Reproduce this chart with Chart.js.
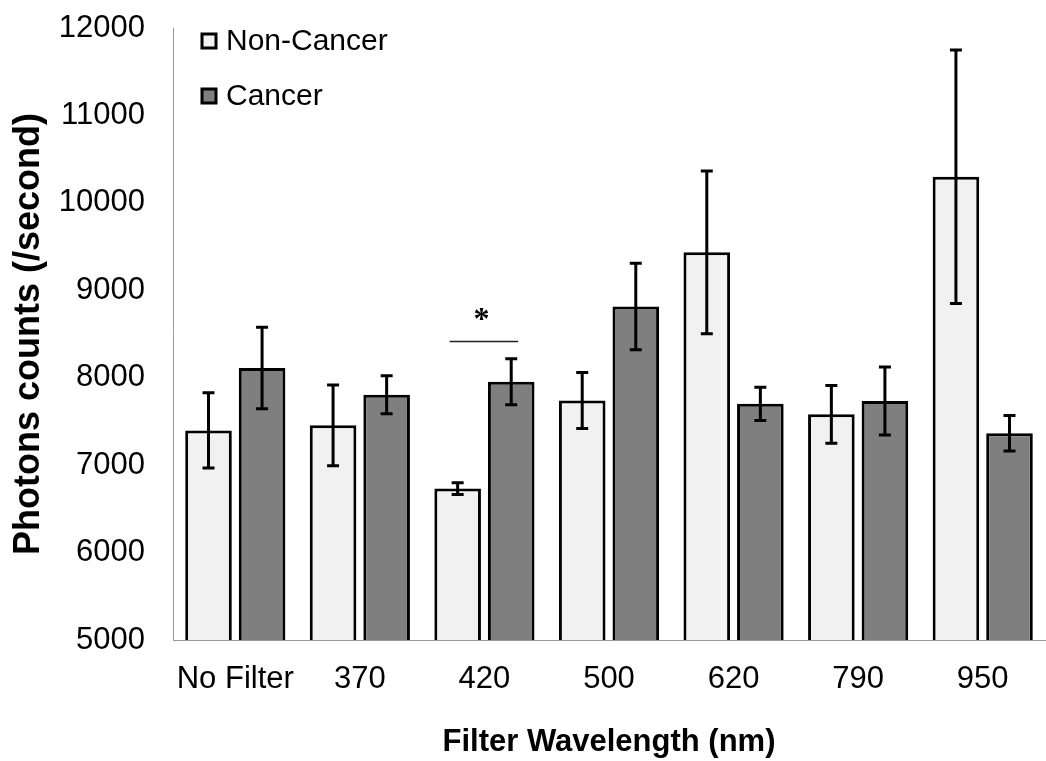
<!DOCTYPE html>
<html>
<head>
<meta charset="utf-8">
<script src="https://cdn.jsdelivr.net/npm/chart.js@4.4.0/dist/chart.umd.min.js"></script>
<style>
  html, body { margin: 0; padding: 0; background: #fff; }
  #wrap { width: 1046px; height: 761px; }
</style>
</head>
<body>
<div id="wrap"><canvas id="c" width="1046" height="761"></canvas></div>
<script>
const categories = ['No Filter', '370', '420', '500', '620', '790', '950'];
const nonCancer = [7397, 7455, 6732, 7740, 9434, 7581, 10299];
const nonCancerErr = [430, 461, 67, 320, 930, 331, 1450];
const cancer = [8110, 7806, 7955, 8814, 7702, 7733, 7365];
const cancerErr = [466, 217, 263, 495, 190, 389, 203];
const yTicks = [5000, 6000, 7000, 8000, 9000, 10000, 11000, 12000];
const sigCategoryIndex = 2;
const sigLevel = 8415;
const sigMark = '*';

const FONT = 'Liberation Sans, Arial, sans-serif';

const errorBarPlugin = {
  id: 'errorBars',
  afterDatasetsDraw(chart) {
    const ctx = chart.ctx;
    const y = chart.scales.y;
    chart.data.datasets.forEach((ds, i) => {
      const meta = chart.getDatasetMeta(i);
      meta.data.forEach((bar, j) => {
        const v = ds.data[j], e = ds.errors[j];
        const top = y.getPixelForValue(v + e);
        const bot = y.getPixelForValue(v - e);
        ctx.save();
        ctx.strokeStyle = '#000';
        ctx.lineWidth = 3;
        ctx.beginPath();
        ctx.moveTo(bar.x, top); ctx.lineTo(bar.x, bot);
        ctx.moveTo(bar.x - 6, top); ctx.lineTo(bar.x + 6, top);
        ctx.moveTo(bar.x - 6, bot); ctx.lineTo(bar.x + 6, bot);
        ctx.stroke();
        ctx.restore();
      });
    });
    const a = chart.getDatasetMeta(0).data[sigCategoryIndex];
    const b = chart.getDatasetMeta(1).data[sigCategoryIndex];
    const sy = y.getPixelForValue(sigLevel);
    ctx.save();
    ctx.strokeStyle = '#222';
    ctx.lineWidth = 1.5;
    ctx.beginPath();
    ctx.moveTo(a.x - 8, sy); ctx.lineTo(b.x + 7, sy);
    ctx.stroke();
    ctx.fillStyle = '#000';
    ctx.font = 'bold 32px "Liberation Serif", "Times New Roman", serif';
    ctx.textAlign = 'center';
    ctx.textBaseline = 'middle';
    ctx.fillText(sigMark, (a.x + b.x) / 2 - 3, sy - 21);
    ctx.restore();
  }
};

const legendPlugin = {
  id: 'insideLegend',
  afterDraw(chart) {
    const ctx = chart.ctx;
    const area = chart.chartArea;
    chart.data.datasets.forEach((ds, i) => {
      const bx = area.left + 29;
      const by = area.top + 6 + i * 55;
      ctx.save();
      ctx.fillStyle = ds.backgroundColor;
      ctx.fillRect(bx, by, 14, 14);
      ctx.strokeStyle = '#000';
      ctx.lineWidth = 3;
      ctx.strokeRect(bx, by, 14, 14);
      ctx.fillStyle = '#000';
      ctx.font = '30px ' + FONT;
      ctx.textAlign = 'left';
      ctx.textBaseline = 'middle';
      ctx.fillText(ds.label, bx + 24, by + 8);
      ctx.restore();
    });
  }
};

new Chart(document.getElementById('c'), {
  type: 'bar',
  data: {
    labels: categories,
    datasets: [
      { label: 'Non-Cancer', data: nonCancer, errors: nonCancerErr,
        backgroundColor: '#f1f1f1', borderColor: '#000', borderWidth: 3, borderSkipped: false },
      { label: 'Cancer', data: cancer, errors: cancerErr,
        backgroundColor: '#7f7f7f', borderColor: '#000', borderWidth: 3, borderSkipped: false }
    ]
  },
  options: {
    responsive: false,
    devicePixelRatio: 1,
    animation: false,
    categoryPercentage: 0.86,
    barPercentage: 0.87,
    layout: { padding: { top: 28, right: 1, left: 0, bottom: 0 } },
    plugins: { legend: { display: false }, tooltip: { enabled: false } },
    scales: {
      x: {
        grid: { display: false, drawTicks: false },
        border: { display: true, color: '#999', width: 1 },
        ticks: { color: '#000', font: { family: FONT, size: 31 }, padding: 21, maxRotation: 0 },
        title: { display: true, text: 'Filter Wavelength (nm)', color: '#000',
                 font: { family: FONT, size: 31, weight: 'bold' }, padding: { top: 0, bottom: 0 } },
        afterFit(s) { s.height = 121; s.paddingLeft = 0; s.paddingRight = 0; }
      },
      y: {
        min: 5000, max: 12000,
        afterBuildTicks(s) { s.ticks = yTicks.map(v => ({ value: v })); },
        grid: { display: false, drawTicks: false },
        border: { display: true, color: '#999', width: 1 },
        ticks: { color: '#000', font: { family: FONT, size: 31 }, padding: 28,
                 callback: (v) => String(v) },
        title: { display: true, text: 'Photons counts (/second)', color: '#000',
                 font: { family: FONT, size: 36, weight: 'bold' }, padding: { top: 7, bottom: 0 } },
        afterFit(s) { s.width = 173; s.paddingTop = 0; s.paddingBottom = 0; }
      }
    }
  },
  plugins: [errorBarPlugin, legendPlugin]
});
</script>
</body>
</html>
